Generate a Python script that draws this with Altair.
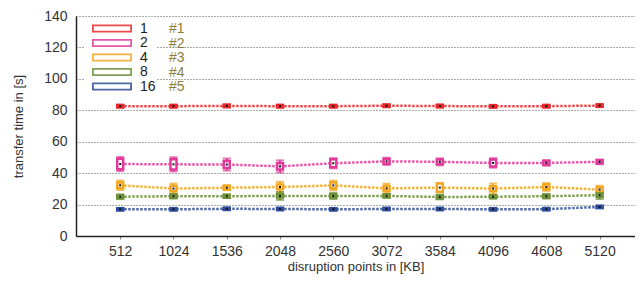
import altair as alt
import pandas as pd

# ---- data ----
x_points = [512, 1024, 1536, 2048, 2560, 3072, 3584, 4096, 4608, 5120]
series = ["1", "2", "4", "8", "16"]
colors = ["#e8282b", "#e0399a", "#f2a51f", "#6a8f35", "#2d4b9b"]
tags = ["#1", "#2", "#3", "#4", "#5"]
tag_y = [84.7, 48.4, 31.8, 26.1, 18.5]

means = {
    "1":  [82.6, 82.6, 82.8, 82.6, 82.6, 82.9, 82.7, 82.5, 82.6, 83.0],
    "2":  [45.8, 45.6, 45.5, 44.3, 46.3, 47.5, 47.2, 46.5, 46.5, 47.2],
    "4":  [32.3, 30.2, 30.7, 31.2, 32.2, 30.3, 30.8, 30.2, 31.2, 29.5],
    "8":  [25.0, 25.3, 25.3, 25.5, 25.5, 25.5, 24.8, 25.0, 25.3, 26.0],
    "16": [17.0, 17.0, 17.3, 17.2, 17.0, 17.2, 17.2, 17.0, 17.1, 18.5],
}
whisker = {
    "1":  [1.0] * 10,
    "2":  [4.5, 4.5, 3.8, 3.8, 3.2, 2.3, 2.2, 3.0, 1.8, 1.5],
    "4":  [3.0, 3.2, 1.5, 3.2, 3.0, 3.0, 3.0, 3.2, 2.5, 2.5],
    "8":  [1.5, 1.5, 1.0, 2.5, 2.0, 1.0, 1.5, 1.0, 1.5, 2.5],
    "16": [0.8] * 10,
}
box = {
    "1":  [0.7] * 10,
    "2":  [3.3, 3.3, 2.2, 2.0, 2.5, 1.5, 1.5, 2.2, 1.2, 1.0],
    "4":  [1.8, 1.8, 1.2, 1.5, 1.8, 1.5, 2.6, 1.5, 1.5, 1.5],
    "8":  [1.0] * 10,
    "16": [0.7] * 10,
}

rows = []
for s in series:
    for i, xv in enumerate(x_points):
        m = means[s][i]
        rows.append({
            "series": s, "x": xv, "mean": m,
            "lo": m - whisker[s][i], "hi": m + whisker[s][i],
            "blo": m - box[s][i], "bhi": m + box[s][i],
        })
df = pd.DataFrame(rows)
tag_df = pd.DataFrame({"tag": tags, "x": [x_points[-1]] * 5, "y": tag_y})

FONT = "Liberation Sans"
OLIVE = "#8c7e3c"
xscale = alt.Scale(domain=[135, 5412], nice=False, zero=False)
yscale = alt.Scale(domain=[0, 140], nice=False)
cscale = alt.Scale(domain=series, range=colors)

x_axis = alt.Axis(values=x_points, format="d", title="disruption points in [KB]", grid=False,
                  domainColor="#222", domainWidth=1.5, tickColor="#888", tickSize=3,
                  labelPadding=5, labelFontSize=14, labelColor="#333",
                  titleFontSize=13, titleFontWeight="normal", titleColor="#333",
                  titlePadding=2, labelFont=FONT, titleFont=FONT, labelOverlap=False)
y_axis = alt.Axis(values=list(range(0, 141, 20)), format="d", title="transfer time in [s]",
                  grid=True, gridDash=[1, 2], gridColor="#555", gridWidth=1,
                  ticks=False, domainColor="#222", domainWidth=1.5,
                  labelPadding=9, labelFontSize=14, labelColor="#333",
                  titleFontSize=13, titleFontWeight="normal", titleColor="#333",
                  titlePadding=18, labelFont=FONT, titleFont=FONT, labelOverlap=False)


def X():
    return alt.X("x:Q", scale=xscale, axis=x_axis)


def Y(field):
    return alt.Y(f"{field}:Q", scale=yscale, axis=y_axis)


def C(legend=None):
    return alt.Color("series:N", scale=cscale, sort=series, legend=legend)


# hollow rectangle (ring) symbol, offset to the right of its anchor
RING = "M0.25,-1H10.25V1H0.25Z M0.7,-0.55V0.55H9.8V-0.55Z"

color_legend = alt.Legend(
    orient="none", legendX=8, legendY=5.5, title=None,
    symbolType=RING, symbolSize=64, symbolStrokeWidth=0,
    labelFontSize=14, labelColor="#222", labelFont=FONT, labelOffset=42,
    fillColor="white", padding=0, rowPadding=0.5,
)

line = alt.Chart(df).mark_line(strokeDash=[2.5, 1.5], strokeWidth=2.5, opacity=0.85).encode(
    x=X(), y=Y("mean"), color=C(color_legend), detail="series:N",
)
rule = alt.Chart(df).mark_rule(strokeWidth=2).encode(
    x=X(), y=Y("lo"), y2="hi:Q", color=C())
cap_lo = alt.Chart(df).mark_tick(orient="horizontal", size=8, thickness=2).encode(
    x=X(), y=Y("lo"), color=C())
cap_hi = alt.Chart(df).mark_tick(orient="horizontal", size=8, thickness=2).encode(
    x=X(), y=Y("hi"), color=C())
boxes = alt.Chart(df).mark_bar(width=6, fill="white", strokeWidth=2.5).encode(
    x=X(), y=Y("blo"), y2="bhi:Q",
    stroke=alt.Stroke("series:N", scale=cscale, legend=None),
)
dots = alt.Chart(df).mark_point(shape="square", filled=True, size=4, color="#111", opacity=1).encode(
    x=X(), y=Y("mean"))

tag_text = alt.Chart(tag_df).mark_text(align="left", baseline="middle", dx=14, fontSize=14,
                                       font=FONT, color=OLIVE).encode(
    x=X(), y=Y("y"),
    opacity=alt.Opacity("tag:N", sort=tags,
                        scale=alt.Scale(domain=tags, range=[1, 1, 1, 1, 1]),
                        legend=alt.Legend(orient="none", legendX=79, legendY=6, title=None,
                                          symbolOpacity=0, symbolSize=0, symbolStrokeWidth=0,
                                          labelFontSize=14, labelColor=OLIVE, labelFont=FONT,
                                          labelOffset=0, padding=0, rowPadding=0.5)),
)

chart = alt.layer(line, rule, cap_lo, cap_hi, boxes, dots, tag_text).properties(
    width=559, height=220,
    autosize=alt.AutoSizeParams(type="none"),
    padding={"left": 68, "top": 8, "right": 0, "bottom": 38},
).configure_view(stroke=None)

chart.save("out.html", embed_options={"renderer": "svg", "actions": False})
